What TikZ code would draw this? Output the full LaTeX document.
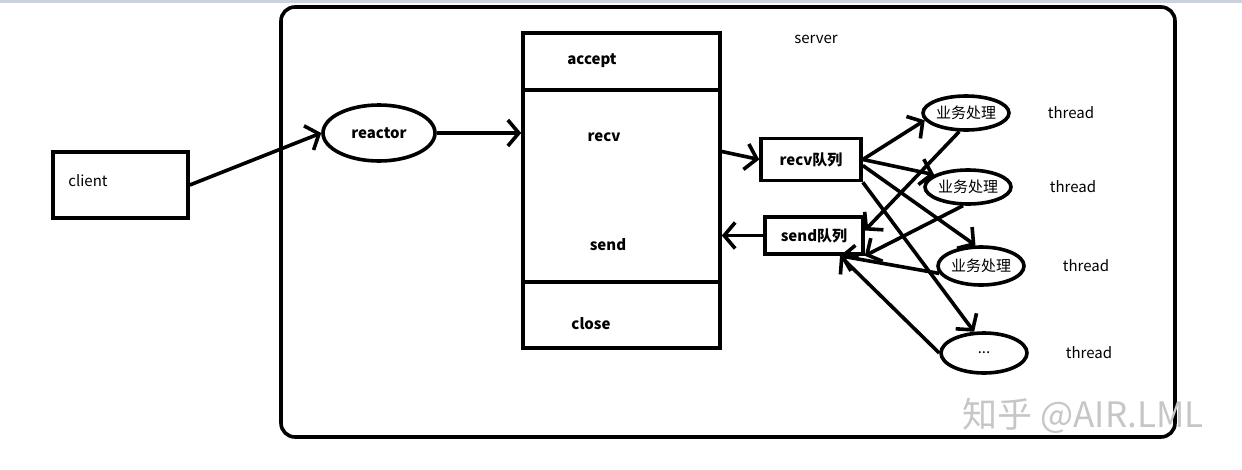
\documentclass[tikz,border=0pt]{standalone}
\usepackage{fontspec}
\setmainfont{Noto Sans CJK SC}
\usetikzlibrary{positioning,shapes.geometric,arrows.meta}
\definecolor{band}{RGB}{200,210,225}

\begin{document}
\begin{tikzpicture}[x=1pt,y=-1pt,line width=3.6pt,
	box/.style={draw,rectangle,inner sep=0pt},
	oval/.style={draw,ellipse,inner sep=0pt},
	arr/.style={-{Straight Barb[length=11pt,width=26pt]}},
	txt/.style={font=\fontsize{15}{17}\selectfont},
	btxt/.style={font=\fontsize{15}{17}\selectfont\bfseries}]
	\useasboundingbox (0,0) rectangle (1242,469);
	\fill[band] (0,0) rectangle (1242,3);
	\node[box,rounded corners=14pt,minimum width=894pt,minimum height=430pt] (server) at (728,222) {};
	\node[txt] (servertxt) at (816,39) {server};
	\node[box,minimum width=135pt,minimum height=66pt] (client) at (120.5,185) {};
	\node[txt] (clienttxt) at (88,181) {client};
	\node[oval,btxt,minimum width=112pt,minimum height=56pt] (reactor) at (379,133) {reactor};
	\node[box,minimum width=197pt,minimum height=315pt] (col) at (621.5,190.5) {};
	\draw (col.west |- 0,90) -- (col.east |- 0,90);
	\draw (col.west |- 0,282) -- (col.east |- 0,282);
	\node[btxt] (accept) at (592,61) {accept};
	\node[btxt] (recv) at (604,137) {recv};
	\node[btxt] (send) at (608,245) {send};
	\node[btxt] (close) at (591,324) {close};
	\node[box,btxt,minimum width=100pt,minimum height=42pt] (recvq) at (811,159.5) {recv队列};
	\node[box,btxt,minimum width=98pt,minimum height=37pt] (sendq) at (814,235.5) {send队列};
	\foreach \n/\x/\y/\h/\t in {1/966/113/34/业务处理, 2/968/187/34/业务处理, 3/981/266/38/业务处理, 4/984/353/40/{...}}{
		\node[oval,txt,minimum width=86pt,minimum height=\h pt] (e\n) at (\x,\y) {\t};
		\node[txt,right=32pt of e\n] (t\n) {thread};
	}
	\draw[arr] (client.east) -- (reactor.west);
	\draw[arr] (reactor.east) -- (reactor.east -| col.west);
	\draw[arr] ([yshift=8pt]recvq.west -| col.east) -- (recvq.west);
	\draw[arr] (sendq.west) -- (sendq.west -| col.east);
	\draw[arr] (recvq.east) -- (e1.190);
	\draw[arr] (recvq.east) -- (e2.160);
	\draw[arr] ([yshift=-6pt]recvq.east) -- (e3.105);
	\draw[arr] (recvq.south east) -- (e4.115);
	\draw[arr] (e1.250) -- ([yshift=5pt]sendq.east);
	\draw[arr] (e2.255) -- (sendq.south east);
	\draw[arr] (e3.190) -- ([xshift=26pt]sendq.south);
	\draw[arr] (e4.west) -- ([xshift=26pt]sendq.south);
	\node[text=gray!45,font=\fontsize{35}{40}\selectfont] (mark) at (1083,416) {知乎 @AIR.LML};
\end{tikzpicture}
\end{document}
